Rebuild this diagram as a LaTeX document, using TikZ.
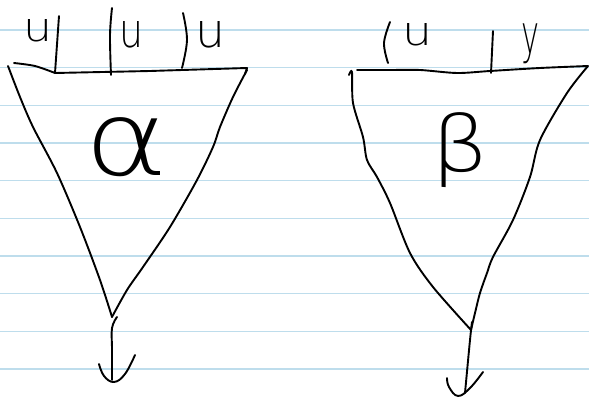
\documentclass[tikz,border=0pt]{standalone}
\usepackage{graphicx}
\usepackage{fontspec}
\newfontfamily\thinfont{DejaVu Sans ExtraLight}
\begin{document}
\begin{tikzpicture}[x=1pt,y=-1pt,
  ink/.style={line width=1.9pt,line cap=round,line join=round,black},
  ruled/.style={line width=1.3pt,color={rgb,255:red,190;green,221;blue,236}},
  lbl/.style={inner sep=0pt,outer sep=0pt,font=\thinfont}]
\useasboundingbox[fill=white] (0,0) rectangle (589,398);
% lined paper
\foreach \k in {0,...,9}{
  \draw[ruled] (0,{30+37.67*\k}) -- (589,{30+37.67*\k});
}
% ---------- left triangle (alpha) ----------
\coordinate (aTL) at (14,63);
\coordinate (aTR) at (247,68);
\coordinate (aApex) at (112,317);
\draw[ink] plot[smooth,tension=0.5] coordinates {(14,63) (35,66) (55,73)} -- (150,71) -- (247,68) -- (245,74);
\draw[ink] plot[smooth,tension=0.5] coordinates {(247,70) (233,97) (220,127) (213,147) (197,180) (170,227) (143,267) (127,290) (112,317)};
\draw[ink] plot[smooth,tension=0.5] coordinates {(8,66) (20,97) (33,127) (57,173) (80,227) (100,280) (112,317)};
% wires
\draw[ink] (59,16) -- (55,73);
\draw[ink] plot[smooth,tension=0.6] coordinates {(112,8) (110,35) (111,75)};
\draw[ink] plot[smooth,tension=0.6] coordinates {(183,13) (187,40) (182,68)};
% labels
\node[lbl] (u1) at (38,31) {\resizebox{29pt}{22pt}{u}};
\node[lbl] (u2) at (131,35) {\resizebox{24pt}{26pt}{u}};
\node[lbl] (u3) at (210,35) {\resizebox{30pt}{26pt}{u}};
\node[lbl] (alpha) at (127,147) {\resizebox{84pt}{58pt}{α}};
% output arrow
\coordinate (aOut) at (112,380);
\draw[ink] plot[smooth,tension=0.6] coordinates {(117,317) (112,328) (112,350) (112,380)};
\draw[ink] plot[smooth,tension=0.7] coordinates {(99,364) (104,376) (114,382) (125,374) (135,355)};
% ---------- right triangle (beta) ----------
\coordinate (bApex) at (471,330);
\draw[ink] plot[smooth,tension=0.5] coordinates {(357,70) (390,70) (420,70) (457,73) (490,71) (540,68) (588,66)};
\draw[ink] plot[smooth,tension=0.5] coordinates {(349,75) (352,72) (353,103) (363,137) (367,160) (377,177) (390,203) (410,253) (433,287) (471,330)};
\draw[ink] plot[smooth,tension=0.5] coordinates {(588,66) (567,93) (540,140) (530,177) (513,220) (493,257) (487,273) (480,293) (475,313) (471,330)};
% wires
\draw[ink] plot[smooth,tension=0.6] coordinates {(390,22) (384,43) (388,63)};
\draw[ink] (493,31) -- (491,73);
% labels
\node[lbl] (u4) at (417,35) {\resizebox{30pt}{22pt}{u}};
\node[lbl,anchor=north] (y1) at (530,24) {\resizebox*{18pt}{40pt}{y}};
\node[lbl,anchor=north] (beta) at (461,113) {\resizebox*{58pt}{75pt}{β}};
% output arrow
\draw[ink] plot[smooth,tension=0.6] coordinates {(472,322) (470,340) (465,393)};
\draw[ink] plot[smooth,tension=0.7] coordinates {(447,378) (449,387) (458,396) (470,388) (483,372)};
\end{tikzpicture}
\end{document}
